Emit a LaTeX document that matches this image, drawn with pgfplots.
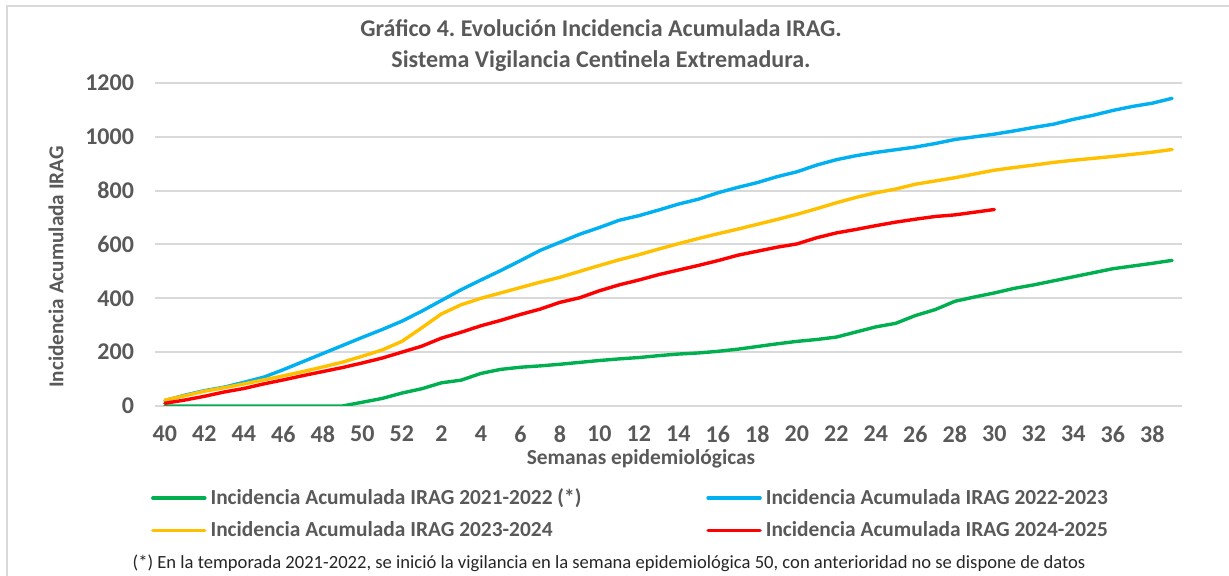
\documentclass[border=0pt]{standalone}
\usepackage{fontspec}
\setmainfont{Carlito}
\usepackage{pgfplots}
\usepackage{pgfplotstable}
\pgfplotsset{compat=1.18}
\frenchspacing

\definecolor{txtgray}{HTML}{595959}
\definecolor{gridgray}{HTML}{D9D9D9}
\definecolor{cgreen}{HTML}{00B050}
\definecolor{cblue}{HTML}{00B0F0}
\definecolor{cyellow}{HTML}{FFC000}
\definecolor{cred}{HTML}{FF0000}

% idx 0 = semana 40 ... idx 12 = semana 52, idx 13 = semana 1 ... idx 51 = semana 39
\pgfplotstableread{
idx g21 b22 y23 r24
0  0   20   22  10
1  0   40   38  22
2  0   57   55  36
3  0   70   68  52
4  0   88   82  65
5  0   107  97  82
6  0   135  112 97
7  0   165  128 113
8  0   195  145 128
9  0   225  163 143
10 14  255  185 160
11 28  284  208 178
12 48  315  240 200
13 64  352  290 222
14 86  392  342 252
15 96  432  376 274
16 121 468  400 298
17 136 503  420 318
18 144 540  440 340
19 149 578  460 360
20 155 608  478 385
21 162 638  500 402
22 169 663  522 428
23 175 690  543 450
24 180 707  562 468
25 187 728  583 488
26 193 750  603 505
27 197 768  622 522
28 203 792  640 540
29 211 812  657 560
30 221 830  675 575
31 231 852  693 590
32 240 870  712 602
33 247 895  733 625
34 256 915  755 643
35 275 930  775 656
36 294 942  792 670
37 307 952  806 683
38 336 962  824 694
39 358 975  836 704
40 389 990  848 710
41 405 1000 862 720
42 420 1010 876 730
43 437 1022 886 nan
44 450 1035 895 nan
45 465 1047 905 nan
46 480 1065 913 nan
47 495 1080 920 nan
48 510 1098 927 nan
49 520 1113 935 nan
50 530 1125 943 nan
51 541 1143 953 nan
}\incid

\begin{document}
\begin{tikzpicture}
\useasboundingbox (0,0) rectangle (614.5pt,288pt);
\draw[gridgray, line width=1pt] (3.5pt,-5pt) -- (3.5pt,285pt) -- (620pt,285pt);

\node[font=\bfseries\fontsize{12}{14.5}\selectfont, text=txtgray, align=center]
  at (300.5pt,265pt) {Gráfico 4. Evolución Incidencia Acumulada IRAG.\\[1pt]Sistema Vigilancia Centinela Extremadura.};

\begin{axis}[
  at={(77.5pt,85pt)}, anchor=south west,
  scale only axis, width=513.5pt, height=161.5pt,
  xmin=-0.5, xmax=51.5, ymin=0, ymax=1200,
  xtick={0,2,...,50},
  xticklabels={40,42,44,46,48,50,52,2,4,6,8,10,12,14,16,18,20,22,24,26,28,30,32,34,36,38},
  ytick={0,200,...,1200},
  /pgf/number format/.cd, 1000 sep={}, assume math mode=true, /pgfplots/.cd,
  ticklabel style={font=\bfseries\fontsize{12}{14}\selectfont, text=txtgray},
  yticklabel style={xshift=-7pt},
  xticklabel style={yshift=-6.5pt},
  major tick length=0pt,
  axis x line*=bottom, axis y line*=left,
  x axis line style={gridgray, line width=1pt, -},
  y axis line style={draw=none},
  ymajorgrids, grid style={gridgray, line width=1pt},
  every axis plot/.append style={line width=1.7pt, line join=round, line cap=round},
  legend columns=2,
  legend cell align=left,
  legend image code/.code={\draw[#1] (0pt,0pt) -- (26pt,0pt);},
  legend style={at={(-0.01,-0.23)}, anchor=north west, draw=none, fill=none,
    font=\bfseries\fontsize{10.7}{12.5}\selectfont, text=txtgray,
    row sep=3pt,
    /tikz/every even column/.append style={column sep=60.5pt}},
]
\addplot[cgreen] table[x=idx, y=g21] {\incid};
\addplot[cblue] table[x=idx, y=b22] {\incid};
\addplot[cyellow] table[x=idx, y=y23] {\incid};
\addplot[cred] table[x=idx, y=r24] {\incid};
\legend{Incidencia Acumulada IRAG 2021-2022 (*), Incidencia Acumulada IRAG 2022-2023,
        Incidencia Acumulada IRAG 2023-2024, Incidencia Acumulada IRAG 2024-2025}
\end{axis}

\node[font=\bfseries\fontsize{10.7}{13}\selectfont, text=txtgray] at (320.5pt,58.5pt) {Semanas epidemiológicas};
\node[font=\bfseries\fontsize{10.6}{13}\selectfont, text=txtgray, rotate=90] at (28pt,154.5pt) {Incidencia Acumulada IRAG};
\node[font=\fontsize{9.3}{11}\selectfont, text=black!85] at (304.5pt,6.5pt)
  {(*) En la temporada 2021-2022, se inició la vigilancia en la semana epidemiológica 50, con anterioridad no se dispone de datos};
\end{tikzpicture}
\end{document}
